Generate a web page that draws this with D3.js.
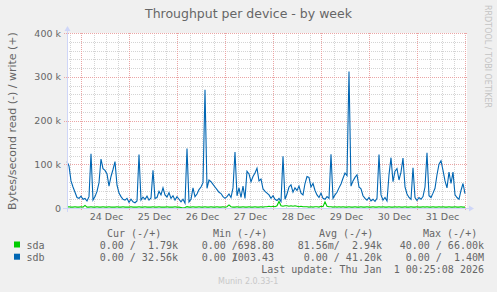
<!DOCTYPE html>
<html>
<head>
<meta charset="utf-8">
<script src="https://cdn.jsdelivr.net/npm/d3@7"></script>
<style>
  body { margin: 0; background: #f0f0f0; }
  svg { display: block; }
  text { fill: #666; }
</style>
</head>
<body>
<svg id="chart" width="497" height="292"></svg>
<script>
// one sample per hour, first sample 23 Dec 16:30 (UTC), values in kB/s
const firstSample = Date.UTC(2025, 11, 23, 16, 30)

const sdbWrite = [
  106, 96, 62, 48, 36, 24, 22, 27, 20, 22,
  16, 26, 124, 18, 26, 38, 58, 112, 90, 86,
  78, 50, 72, 88, 106, 52, 34, 26, 20, 18,
  22, 13, 20, 14, 12, 16, 122, 18, 25, 20,
  27, 18, 23, 86, 22, 24, 38, 30, 46, 30,
  25, 35, 22, 28, 18, 26, 20, 14, 20, 11,
  136, 14, 20, 46, 26, 32, 42, 48, 58, 270,
  45, 64, 60, 54, 48, 42, 36, 33, 26, 22,
  26, 32, 24, 46, 128, 28, 46, 24, 50, 22,
  84, 78, 60, 72, 80, 91, 62, 66, 44, 38,
  34, 30, 22, 28, 20, 17, 22, 15, 118, 20,
  32, 48, 53, 36, 46, 40, 50, 34, 30, 56,
  72, 70, 48, 56, 40, 30, 24, 34, 22, 20,
  26, 22, 123, 22, 30, 36, 46, 55, 68, 80,
  74, 312, 50, 62, 70, 76, 48, 44, 28, 22,
  18, 24, 16, 20, 15, 22, 122, 30, 18, 24,
  16, 76, 115, 60, 84, 90, 64, 82, 114, 48,
  32, 24, 20, 92, 24, 17, 24, 20, 26, 48,
  126, 28, 24, 34, 45, 76, 100, 108, 86, 62,
  46, 82, 56, 82, 30, 24, 20, 40, 56, 33
]

const sdaWrite = [
  2, 3, 2, 2, 3, 2, 2, 3, 2, 6,
  2, 2, 3, 2, 2, 3, 2, 2, 3, 2,
  2, 3, 2, 2, 2, 3, 2, 2, 3, 2,
  2, 2, 3, 2, 2, 2, 3, 2, 2, 3,
  2, 2, 2, 3, 2, 2, 3, 2, 2, 2,
  3, 2, 2, 2, 3, 2, 2, 1, 0, 1,
  3, 2, 2, 3, 2, 2, 3, 2, 2, 3,
  2, 2, 3, 2, 2, 3, 2, 2, 3, 2,
  3, 7, 3, 2, 2, 3, 2, 2, 3, 2,
  2, 3, 2, 2, 3, 2, 2, 3, 2, 3,
  3, 4, 3, 4, 3, 5, 15, 5, 4, 5,
  5, 4, 5, 4, 5, 4, 3, 4, 3, 3,
  3, 2, 3, 2, 3, 3, 2, 4, 3, 14,
  4, 3, 3, 2, 3, 2, 3, 2, 3, 2,
  2, 3, 2, 2, 3, 2, 2, 3, 2, 2,
  3, 2, 2, 3, 2, 2, 3, 2, 3, 2,
  2, 3, 2, 2, 3, 2, 3, 2, 2, 3,
  2, 2, 3, 2, 2, 3, 2, 2, 3, 2,
  3, 2, 2, 3, 2, 2, 3, 2, 3, 2,
  2, 3, 2, 2, 3, 2, 2, 3, 2, 2
]

const dayTicks = [24, 25, 26, 27, 28, 29, 30, 31]
const yTicks = [0, 100, 200, 300, 400]

const seriesNames = ['sda', 'sdb']
const legendHeaders = ['Cur (-/+)', 'Min (-/+)', 'Avg (-/+)', 'Max (-/+)']
// [read part, write part] per column
const sdaStats = [['0.00 /', '  1.79k'], ['0.00 /', '698.80 '], ['81.56m/', '  2.94k'], ['40.00 /', ' 66.00k']]
const sdbStats = [['0.00 /', ' 32.56k'], ['0.00 /', '1003.43 '], ['0.00 /', ' 41.20k'], ['0.00 /', '  1.40M']]
const lastUpdate = 'Last update: Thu Jan  1 00:25:08 2026'

const colors = { sda: '#00cc00', sdb: '#0066b3' }
const axisColor = '#cfd6f8'

const svg = d3.select('#chart')
const plot = { left: 67, right: 467, top: 33, bottom: 208 }

const x = d3.scaleUtc()
  .domain([firstSample, Date.UTC(2026, 0, 1, 0, 30)])
  .range([plot.left, plot.right])
const y = d3.scaleLinear()
  .domain([0, 400])
  .range([plot.bottom, plot.top])

svg.append('rect')
  .attr('x', plot.left).attr('y', plot.top)
  .attr('width', plot.right - plot.left).attr('height', plot.bottom - plot.top)
  .attr('fill', '#fff')

// grid
const grid = svg.append('g').attr('shape-rendering', 'crispEdges').attr('stroke-dasharray', '1,1')
const [t0, t1] = x.domain()

d3.utcHour.every(6).range(t0, t1).filter(d => d.getUTCHours() != 0).forEach(d => {
  grid.append('line')
    .attr('x1', Math.round(x(d)) + 0.5).attr('x2', Math.round(x(d)) + 0.5)
    .attr('y1', plot.top).attr('y2', plot.bottom)
    .attr('stroke', '#d4d4d4')
})
d3.range(20, 400, 20).filter(v => v % 100 != 0).forEach(v => {
  grid.append('line')
    .attr('x1', plot.left).attr('x2', plot.right)
    .attr('y1', Math.round(y(v)) + 0.5).attr('y2', Math.round(y(v)) + 0.5)
    .attr('stroke', '#d4d4d4')
})
d3.utcDay.range(t0, t1).forEach(d => {
  grid.append('line')
    .attr('x1', Math.round(x(d)) - 0.5).attr('x2', Math.round(x(d)) - 0.5)
    .attr('y1', plot.top).attr('y2', plot.bottom + 3)
    .attr('stroke', '#eba5a5')
})
yTicks.filter(v => v > 0).forEach(v => {
  grid.append('line')
    .attr('x1', plot.left - 3).attr('x2', plot.right)
    .attr('y1', Math.round(y(v)) + 0.5).attr('y2', Math.round(y(v)) + 0.5)
    .attr('stroke', '#eba5a5')
})

// series lines
const line = d3.line()
  .x((d, i) => x(firstSample + i * 3600e3))
  .y(d => y(d))

svg.append('path').datum(sdaWrite)
  .attr('d', line).attr('fill', 'none')
  .attr('stroke', colors.sda).attr('stroke-width', 1.1)
svg.append('path').datum(sdbWrite)
  .attr('d', line).attr('fill', 'none')
  .attr('stroke', colors.sdb).attr('stroke-width', 1.1)

// axes lines + arrows
svg.append('line')
  .attr('x1', plot.left - 4).attr('x2', plot.right + 4)
  .attr('y1', plot.bottom + 0.5).attr('y2', plot.bottom + 0.5)
  .attr('stroke', axisColor)
svg.append('line')
  .attr('x1', plot.left + 0.5).attr('x2', plot.left + 0.5)
  .attr('y1', plot.bottom + 4).attr('y2', plot.top - 4)
  .attr('stroke', axisColor)
svg.append('path')
  .attr('d', `M${plot.right + 2},${plot.bottom - 2.5}L${plot.right + 7},${plot.bottom + 0.5}L${plot.right + 2},${plot.bottom + 3.5}Z`)
  .attr('fill', axisColor)
svg.append('path')
  .attr('d', `M${plot.left - 2.5},${plot.top - 2}L${plot.left + 0.5},${plot.top - 7}L${plot.left + 3.5},${plot.top - 2}Z`)
  .attr('fill', axisColor)

// tick labels
const xAxis = d3.axisBottom(x)
  .tickValues(dayTicks.map(d => Date.UTC(2025, 11, d, 12)))
  .tickFormat(d3.utcFormat('%-d %b'))
  .tickSize(0).tickPadding(5)
svg.append('g')
  .attr('transform', `translate(0,${plot.bottom})`)
  .call(xAxis)
  .call(g => g.select('.domain').remove())
  .selectAll('text').style('font', '9.5px "DejaVu Sans"').attr('fill', '#666')

const yAxis = d3.axisLeft(y)
  .tickValues(yTicks)
  .tickFormat(d => d == 0 ? '0' : d + ' k')
  .tickSize(0).tickPadding(6)
svg.append('g')
  .attr('transform', `translate(${plot.left},0)`)
  .call(yAxis)
  .call(g => g.select('.domain').remove())
  .selectAll('text').style('font', '9.5px "DejaVu Sans"').attr('fill', '#666')

// titles
svg.append('text')
  .attr('x', 248.5).attr('y', 17.5)
  .attr('text-anchor', 'middle')
  .style('font', '12.5px "DejaVu Sans"')
  .text('Throughput per device - by week')

svg.append('text')
  .attr('transform', 'translate(16,121) rotate(-90)')
  .attr('text-anchor', 'middle')
  .style('font', '11px "DejaVu Sans"')
  .text('Bytes/second read (-) / write (+)')

svg.append('text')
  .attr('transform', 'translate(485,5) rotate(90)')
  .style('font', '8px "DejaVu Sans"')
  .attr('fill', '#c4c4c4').style('fill', '#c4c4c4')
  .text('RRDTOOL / TOBI OETIKER')

// legend
const mono = '10px "DejaVu Sans Mono"'
const headerX = [107, 213, 319, 423]
const colEnd = [178, 280, 382, 484]
const charW = 6.02

legendHeaders.forEach((h, i) => {
  svg.append('text')
    .attr('x', headerX[i]).attr('y', 236.5)
    .style('font', mono).style('white-space', 'pre')
    .text(h)
})

const rowY = [248.5, 260.7]
;[sdaStats, sdbStats].forEach((stats, r) => {
  const name = seriesNames[r]
  svg.append('rect')
    .attr('x', 14).attr('y', rowY[r] - 7)
    .attr('width', 6).attr('height', 6)
    .attr('fill', colors[name])
  svg.append('text')
    .attr('x', 26.5).attr('y', rowY[r])
    .style('font', mono)
    .text(name)
  stats.forEach((s, c) => {
    svg.append('text')
      .attr('x', colEnd[c] - 7 * charW).attr('y', rowY[r])
      .attr('text-anchor', 'end')
      .style('font', mono).style('white-space', 'pre')
      .text(s[0])
    svg.append('text')
      .attr('x', colEnd[c]).attr('y', rowY[r])
      .attr('text-anchor', 'end')
      .style('font', mono).style('white-space', 'pre')
      .text(s[1])
  })
})

svg.append('text')
  .attr('x', 484).attr('y', 273)
  .attr('text-anchor', 'end')
  .style('font', mono).style('white-space', 'pre')
  .text(lastUpdate)

svg.append('text')
  .attr('x', 218).attr('y', 283.5)
  .style('font', '8px "DejaVu Sans"').style('fill', '#c8c8c8')
  .text('Munin 2.0.33-1')
</script>
</body>
</html>
